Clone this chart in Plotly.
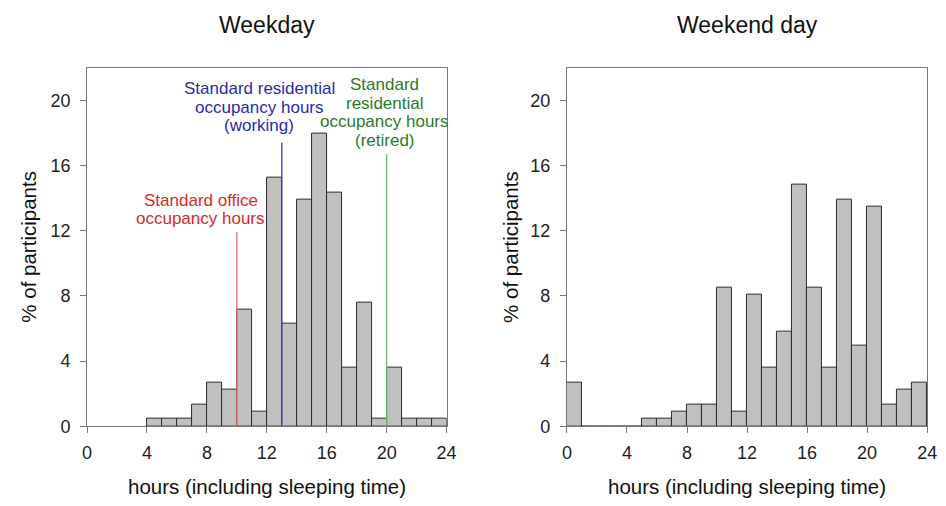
import plotly.graph_objects as go

# ---- data -------------------------------------------------------------
# hourly bins (start hour of each 1-hour bin) and % of participants
weekday_bins = list(range(4, 24))
weekday_pct = [0.45, 0.45, 0.45, 1.35, 2.69, 2.24, 7.17, 0.90, 15.25, 6.28,
               13.90, 17.94, 14.35, 3.59, 7.62, 0.45, 3.59, 0.45, 0.45, 0.45]

weekend_bins = list(range(0, 24))
weekend_pct = [2.69, 0, 0, 0, 0, 0.45, 0.45, 0.90, 1.35, 1.35, 8.52, 0.90,
               8.07, 3.59, 5.83, 14.80, 8.52, 3.59, 13.90, 4.93, 13.45, 1.35,
               2.24, 2.69]

# reference occupancy hours: (hours, line top, label lines, label x, label tops)
ref_hours = [10, 13, 20]
ref_tops = [11.9, 17.4, 16.7]
ref_text_colors = ["#d42a2a", "#2a2ab0", "#2a7a2a"]
ref_line_colors = ["#e26a6a", "#3b3bb8", "#6cb86c"]
ref_labels = [
    ["Standard office", "occupancy hours"],
    ["Standard residential", "occupancy hours", "(working)"],
    ["Standard", "residential", "occupancy hours", "(retired)"],
]
ref_label_x = [7.6, 11.5, 19.88]
ref_label_y0 = [13.88, 20.72, 20.95]   # y of first label line
ref_label_step = 1.14                   # line spacing in % units

titles = ["Weekday", "Weekend day"]
x_title = "hours (including sleeping time)"
y_title = "% of participants"
x_ticks = [0, 4, 8, 12, 16, 20, 24]
y_ticks = [0, 4, 8, 12, 16, 20]

# ---- figure -----------------------------------------------------------
W, H = 946, 506
FONT = "Liberation Sans, Arial, sans-serif"
fig = go.Figure()

bar_style = dict(marker=dict(color="#c0c0c0", line=dict(color="#2a2a2a", width=1)),
                 width=1, showlegend=False, hoverinfo="skip")

fig.add_trace(go.Bar(x=[b + 0.5 for b in weekday_bins], y=weekday_pct,
                     xaxis="x", yaxis="y", **bar_style))
fig.add_trace(go.Bar(x=[b + 0.5 for b in weekend_bins], y=weekend_pct,
                     xaxis="x2", yaxis="y2", **bar_style))

annotations = []
for h, top, lc, tc, lines, lx, ly in zip(ref_hours, ref_tops, ref_line_colors,
                                          ref_text_colors, ref_labels,
                                          ref_label_x, ref_label_y0):
    fig.add_trace(go.Scatter(x=[h, h], y=[0, top], mode="lines",
                             line=dict(color=lc, width=1.3),
                             xaxis="x", yaxis="y", showlegend=False,
                             hoverinfo="skip"))
    for i, txt in enumerate(lines):
        annotations.append(dict(x=lx, y=ly - i * ref_label_step, xref="x", yref="y",
                                text=txt, showarrow=False, xanchor="center",
                                yanchor="middle",
                                font=dict(family=FONT, size=17, color=tc)))

x_domains = [[83.4 / W, 448.7 / W], [571.0 / W, 937.0 / W]]
y_domain = [(H - 435) / H, (H - 69) / H]
ylab_x = [23 / W, 513 / W]

for k, (dom, title, yx) in enumerate(zip(x_domains, titles, ylab_x)):
    annotations.append(dict(x=(dom[0] + dom[1]) / 2, y=(H - 26) / H, xref="paper",
                            yref="paper", text=title, showarrow=False,
                            xanchor="center", yanchor="middle",
                            font=dict(family=FONT, size=23, color="#111")))
    annotations.append(dict(x=(dom[0] + dom[1]) / 2, y=(H - 496) / H, xref="paper",
                            yref="paper", text=x_title, showarrow=False,
                            xanchor="center", yanchor="middle",
                            font=dict(family=FONT, size=20.5, color="#111")))
    annotations.append(dict(x=yx, y=(y_domain[0] + y_domain[1]) / 2, xref="paper",
                            yref="paper", text=y_title, showarrow=False,
                            textangle=-90, xanchor="center", yanchor="middle",
                            font=dict(family=FONT, size=20.5, color="#111")))

axis_common = dict(showgrid=False, zeroline=False, showline=True, linecolor="#777",
                   linewidth=1, mirror=True, ticks="outside", ticklen=6,
                   tickcolor="#777", tickwidth=1,
                   tickfont=dict(family=FONT, size=18, color="#222"))

layout = dict(width=W, height=H, margin=dict(l=0, r=0, t=0, b=0),
              paper_bgcolor="white", plot_bgcolor="white", bargap=0,
              barmode="overlay", annotations=annotations, showlegend=False)
for k in range(2):
    sfx = "" if k == 0 else str(k + 1)
    layout["xaxis" + sfx] = dict(domain=x_domains[k], range=[0, 24],
                                 tickvals=x_ticks, anchor="y" + sfx,
                                 ticklabelstandoff=4, **axis_common)
    layout["yaxis" + sfx] = dict(domain=y_domain, range=[0, 22], tickvals=y_ticks,
                                 anchor="x" + sfx, ticklabelstandoff=6,
                                 **axis_common)

fig.update_layout(**layout)
fig.write_html("out.html")
